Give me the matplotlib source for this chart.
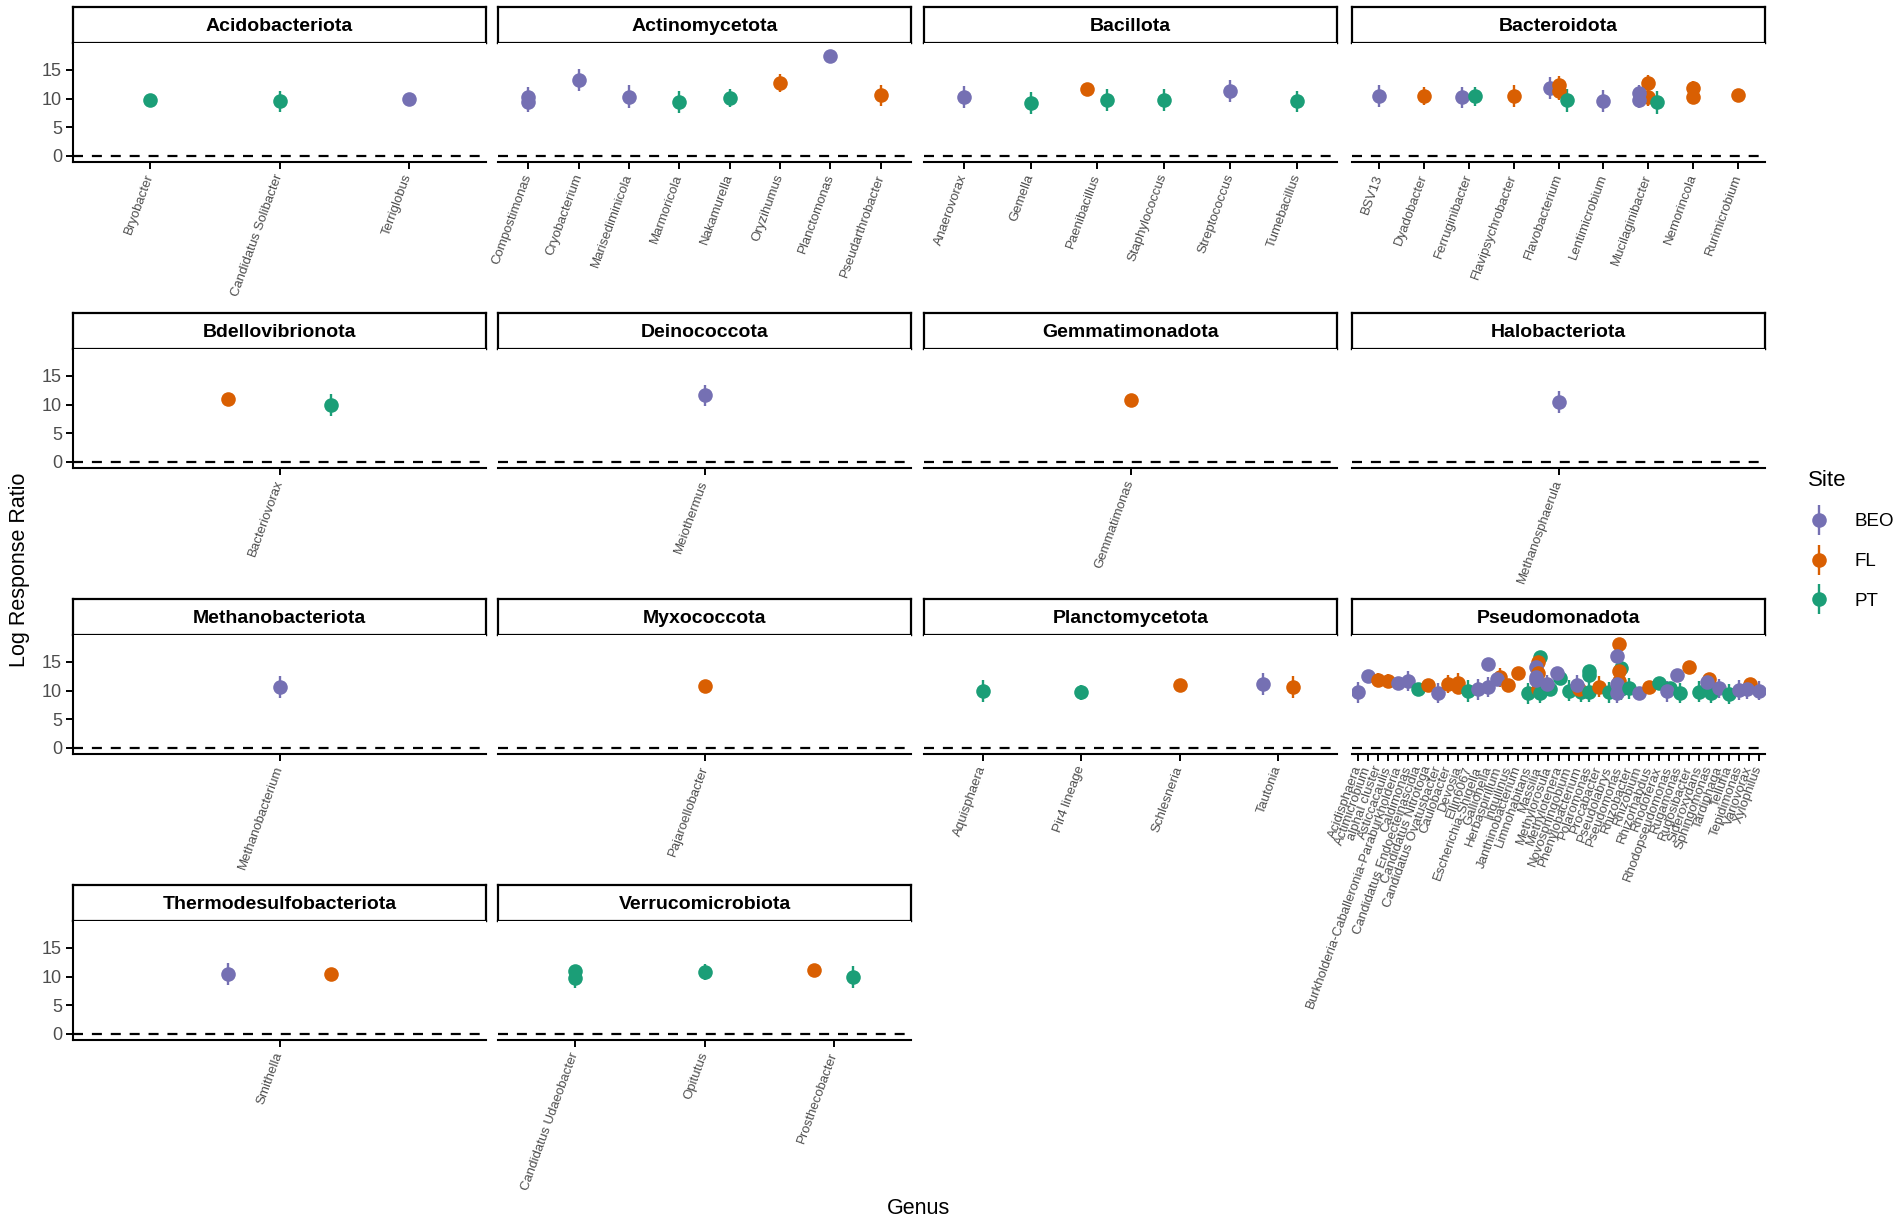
import matplotlib.pyplot as plt
from matplotlib.lines import Line2D
from matplotlib.legend_handler import HandlerTuple

plt.rcParams['font.family'] = ['Liberation Sans', 'DejaVu Sans']

# colours for each site (Dark2)
site_names = ['BEO', 'FL', 'PT']
site_colors = ['#7570B3', '#D95F02', '#1B9E77']

# genera and points (genus, site, log response ratio, half range) per phylum
acido_genera = ['Bryobacter', 'Candidatus Solibacter', 'Terriglobus']
acido_points = [('Bryobacter', 'PT', 9.8, 0.8), ('Candidatus Solibacter', 'PT', 9.5, 1.9),
                ('Terriglobus', 'BEO', 9.9, 0.5)]

actino_genera = ['Compostimonas', 'Cryobacterium', 'Marisediminicola', 'Marmoricola',
                 'Nakamurella', 'Oryzihumus', 'Planctomonas', 'Pseudarthrobacter']
actino_points = [('Compostimonas', 'BEO', 10.2, 1.8), ('Compostimonas', 'BEO', 9.4, 1.8),
                 ('Cryobacterium', 'BEO', 13.3, 1.9), ('Marisediminicola', 'BEO', 10.3, 2.0),
                 ('Marmoricola', 'PT', 9.4, 1.9), ('Nakamurella', 'PT', 10.1, 1.6),
                 ('Oryzihumus', 'FL', 12.7, 1.6), ('Planctomonas', 'BEO', 17.4, 0.4),
                 ('Pseudarthrobacter', 'FL', 10.6, 1.8)]

bacillota_genera = ['Anaerovorax', 'Gemella', 'Paenibacillus', 'Staphylococcus',
                    'Streptococcus', 'Tumebacillus']
bacillota_points = [('Anaerovorax', 'BEO', 10.3, 1.9), ('Gemella', 'PT', 9.3, 1.9),
                    ('Paenibacillus', 'FL', 11.6, 0.4), ('Paenibacillus', 'PT', 9.7, 1.9),
                    ('Staphylococcus', 'PT', 9.7, 1.9), ('Streptococcus', 'BEO', 11.3, 1.9),
                    ('Tumebacillus', 'PT', 9.5, 1.9)]

bactero_genera = ['BSV13', 'Dyadobacter', 'Ferruginibacter', 'Flavipsychrobacter',
                  'Flavobacterium', 'Lentimicrobium', 'Mucilaginibacter', 'Nemorincola',
                  'Rurimicrobium']
bactero_points = [('BSV13', 'BEO', 10.5, 1.9), ('Dyadobacter', 'FL', 10.5, 1.6),
                  ('Ferruginibacter', 'BEO', 10.2, 1.9), ('Ferruginibacter', 'PT', 10.4, 1.7),
                  ('Flavipsychrobacter', 'FL', 10.4, 1.9),
                  ('Flavobacterium', 'BEO', 11.8, 1.9), ('Flavobacterium', 'FL', 12.3, 1.6),
                  ('Flavobacterium', 'FL', 11.3, 1.6), ('Flavobacterium', 'PT', 9.7, 2.0),
                  ('Lentimicrobium', 'BEO', 9.6, 1.9),
                  ('Mucilaginibacter', 'FL', 12.7, 1.5), ('Mucilaginibacter', 'FL', 10.3, 1.5),
                  ('Mucilaginibacter', 'BEO', 10.9, 1.5), ('Mucilaginibacter', 'BEO', 9.8, 1.5),
                  ('Mucilaginibacter', 'PT', 9.4, 2.0),
                  ('Nemorincola', 'FL', 11.8, 1.2), ('Nemorincola', 'FL', 10.3, 1.2),
                  ('Rurimicrobium', 'FL', 10.6, 0.8)]

bdello_genera = ['Bacteriovorax']
bdello_points = [('Bacteriovorax', 'FL', 11.0, 1.0), ('Bacteriovorax', 'PT', 9.9, 1.9)]

deino_genera = ['Meiothermus']
deino_points = [('Meiothermus', 'BEO', 11.6, 1.9)]

gemma_genera = ['Gemmatimonas']
gemma_points = [('Gemmatimonas', 'FL', 10.8, 0.5)]

halo_genera = ['Methanosphaerula']
halo_points = [('Methanosphaerula', 'BEO', 10.4, 1.9)]

methano_genera = ['Methanobacterium']
methano_points = [('Methanobacterium', 'BEO', 10.6, 1.9)]

myxo_genera = ['Pajaroellobacter']
myxo_points = [('Pajaroellobacter', 'FL', 10.8, 0.5)]

plancto_genera = ['Aquisphaera', 'Pir4 lineage', 'Schlesneria', 'Tautonia']
plancto_points = [('Aquisphaera', 'PT', 9.9, 1.9), ('Pir4 lineage', 'PT', 9.7, 1.3),
                  ('Schlesneria', 'FL', 11.0, 0.5), ('Tautonia', 'BEO', 11.2, 1.9),
                  ('Tautonia', 'FL', 10.6, 1.9)]

pseudo_genera = ['Acidisphaera', 'Actimicrobium', 'alphaI cluster', 'Asticcacaulis',
                 'Burkholderia-Caballeronia-Paraburkholderia', 'Caldimonas',
                 'Candidatus Endoecteinascidia', 'Candidatus Nitrotoga',
                 'Candidatus Ovatusbacter', 'Caulobacter', 'Devosia', 'Ellin6067',
                 'Escherichia-Shigella', 'Gallionella', 'Herbaspirillum', 'Inquilinus',
                 'Janthinobacterium', 'Limnohabitans', 'Massilia', 'Methylorosula',
                 'Methylotenera', 'Novosphingobium', 'Phenylobacterium', 'Polaromonas',
                 'Procabacter', 'Pseudolabrys', 'Pseudomonas', 'Rhizobacter', 'Rhizobium',
                 'Rhizorhabdus', 'Rhodoferax', 'Rhodopseudomonas', 'Rugamonas',
                 'Rugosibacter', 'Sideroxydans', 'Sphingomonas', 'Tardiphaga', 'Telluria',
                 'Tepidimonas', 'Variovorax', 'Xylophilus']
pseudo_points = [('Acidisphaera', 'BEO', 9.7, 1.8), ('Actimicrobium', 'BEO', 12.6, 0.4),
                 ('alphaI cluster', 'FL', 11.9, 1.2), ('Asticcacaulis', 'FL', 11.7, 1.2),
                 ('Burkholderia-Caballeronia-Paraburkholderia', 'BEO', 11.3, 0.6),
                 ('Caldimonas', 'BEO', 11.7, 1.7),
                 ('Candidatus Endoecteinascidia', 'PT', 10.2, 0.6),
                 ('Candidatus Nitrotoga', 'FL', 10.9, 0.6),
                 ('Candidatus Ovatusbacter', 'BEO', 9.6, 1.8),
                 ('Caulobacter', 'FL', 11.2, 1.6), ('Devosia', 'FL', 11.4, 1.6),
                 ('Devosia', 'FL', 10.6, 1.0), ('Ellin6067', 'PT', 10.0, 1.9),
                 ('Escherichia-Shigella', 'BEO', 10.2, 1.9),
                 ('Gallionella', 'BEO', 14.6, 0.5), ('Gallionella', 'BEO', 10.6, 1.7),
                 ('Herbaspirillum', 'FL', 12.3, 1.6), ('Herbaspirillum', 'BEO', 12.0, 1.0),
                 ('Inquilinus', 'FL', 10.9, 1.0), ('Janthinobacterium', 'FL', 13.0, 0.5),
                 ('Limnohabitans', 'PT', 9.5, 1.9),
                 ('Massilia', 'PT', 15.8, 0.5), ('Massilia', 'FL', 15.0, 0.6),
                 ('Massilia', 'BEO', 14.2, 0.6), ('Massilia', 'FL', 13.0, 0.6),
                 ('Massilia', 'BEO', 12.4, 0.6), ('Massilia', 'FL', 10.3, 1.7),
                 ('Massilia', 'PT', 9.6, 1.8), ('Massilia', 'BEO', 11.8, 0.6),
                 ('Methylorosula', 'PT', 10.3, 1.0), ('Methylorosula', 'BEO', 11.2, 1.6),
                 ('Methylotenera', 'PT', 12.2, 0.8), ('Methylotenera', 'BEO', 13.0, 0.5),
                 ('Novosphingobium', 'PT', 10.0, 1.8),
                 ('Phenylobacterium', 'PT', 9.8, 1.8), ('Phenylobacterium', 'FL', 10.3, 1.5),
                 ('Phenylobacterium', 'BEO', 11.0, 1.8),
                 ('Polaromonas', 'PT', 13.5, 0.8), ('Polaromonas', 'PT', 12.8, 0.6),
                 ('Polaromonas', 'PT', 9.8, 1.8), ('Procabacter', 'FL', 10.7, 1.8),
                 ('Pseudolabrys', 'PT', 9.7, 1.8),
                 ('Pseudomonas', 'FL', 18.1, 0.5), ('Pseudomonas', 'PT', 14.0, 0.5),
                 ('Pseudomonas', 'FL', 13.5, 0.6), ('Pseudomonas', 'FL', 11.7, 0.6),
                 ('Pseudomonas', 'PT', 10.2, 1.8), ('Pseudomonas', 'BEO', 16.1, 0.5),
                 ('Pseudomonas', 'BEO', 11.2, 1.6), ('Pseudomonas', 'BEO', 9.6, 1.8),
                 ('Rhizobacter', 'PT', 10.4, 1.8), ('Rhizobium', 'BEO', 9.6, 0.8),
                 ('Rhizorhabdus', 'FL', 10.7, 0.6), ('Rhodoferax', 'PT', 11.4, 0.8),
                 ('Rhodopseudomonas', 'PT', 10.5, 1.0), ('Rhodopseudomonas', 'BEO', 9.9, 1.8),
                 ('Rugamonas', 'PT', 9.6, 1.8), ('Rugamonas', 'BEO', 12.7, 0.6),
                 ('Rugosibacter', 'FL', 14.2, 0.5), ('Sideroxydans', 'PT', 9.8, 1.8),
                 ('Sphingomonas', 'PT', 9.6, 1.8), ('Sphingomonas', 'FL', 12.0, 0.8),
                 ('Sphingomonas', 'BEO', 11.5, 1.3), ('Tardiphaga', 'BEO', 10.4, 1.6),
                 ('Telluria', 'PT', 9.4, 1.8), ('Tepidimonas', 'BEO', 10.1, 1.8),
                 ('Variovorax', 'FL', 11.2, 1.0), ('Variovorax', 'BEO', 10.2, 1.6),
                 ('Xylophilus', 'BEO', 10.0, 1.6)]

thermo_genera = ['Smithella']
thermo_points = [('Smithella', 'BEO', 10.5, 1.9), ('Smithella', 'FL', 10.4, 0.7)]

verruco_genera = ['Candidatus Udaeobacter', 'Opitutus', 'Prosthecobacter']
verruco_points = [('Candidatus Udaeobacter', 'PT', 11.0, 1.0),
                  ('Candidatus Udaeobacter', 'PT', 9.7, 1.7),
                  ('Opitutus', 'PT', 10.8, 1.4), ('Prosthecobacter', 'FL', 11.2, 0.5),
                  ('Prosthecobacter', 'PT', 9.9, 1.9)]

panels = [('Acidobacteriota', acido_genera, acido_points),
          ('Actinomycetota', actino_genera, actino_points),
          ('Bacillota', bacillota_genera, bacillota_points),
          ('Bacteroidota', bactero_genera, bactero_points),
          ('Bdellovibrionota', bdello_genera, bdello_points),
          ('Deinococcota', deino_genera, deino_points),
          ('Gemmatimonadota', gemma_genera, gemma_points),
          ('Halobacteriota', halo_genera, halo_points),
          ('Methanobacteriota', methano_genera, methano_points),
          ('Myxococcota', myxo_genera, myxo_points),
          ('Planctomycetota', plancto_genera, plancto_points),
          ('Pseudomonadota', pseudo_genera, pseudo_points),
          ('Thermodesulfobacteriota', thermo_genera, thermo_points),
          ('Verrucomicrobiota', verruco_genera, verruco_points)]

W, H = 1902, 1224
fig = plt.figure(figsize=(W / 100, H / 100), dpi=100)


def box(x, y, w, h):
    # pixel box (top-left origin) to figure fraction
    return [x / W, 1 - (y + h) / H, w / W, h / H]


col_left = [73, 498, 924, 1352]
row_top = [7, 313, 599, 885]
panel_w = 413
strip_h = 36
panel_h = 119
grey = '#4D4D4D'
dodge = 0.6

for idx, (phylum, genera, points) in enumerate(panels):
    row, col = divmod(idx, 4)
    x0 = col_left[col]
    y0 = row_top[row]

    # strip
    sax = fig.add_axes(box(x0, y0, panel_w, strip_h))
    sax.set_xticks([])
    sax.set_yticks([])
    for s in sax.spines.values():
        s.set_linewidth(1.6)
        s.set_color('black')
    sax.text(0.5, 0.47, phylum, ha='center', va='center', fontsize=14,
             fontweight='bold', transform=sax.transAxes)

    # panel
    ax = fig.add_axes(box(x0, y0 + strip_h, panel_w, panel_h))
    n = len(genera)
    ax.set_xlim(0.4, n + 0.6)
    ax.set_ylim(-1.05, 19.7)
    ax.axhline(0, color='black', lw=1.6, ls=(0, (4.5, 4)), zorder=1)

    # sites present for each genus, for dodging
    present = {}
    for g, s, v, e in points:
        present.setdefault(g, set()).add(s)

    for g, s, v, e in points:
        sites = [x for x in site_names if x in present[g]]
        k = sites.index(s)
        xpos = genera.index(g) + 1 - dodge / 2 + dodge * (k + 0.5) / len(sites)
        c = site_colors[site_names.index(s)]
        ax.vlines(xpos, v - e, v + e, color=c, lw=1.7, zorder=2)
        ax.plot(xpos, v, 'o', color=c, markersize=10.5, markeredgewidth=0, zorder=3)

    for side in ['top', 'right']:
        ax.spines[side].set_visible(False)
    ax.spines['bottom'].set_linewidth(1.5)
    ax.spines['left'].set_linewidth(1.5)

    ax.set_xticks(range(1, n + 1))
    ax.set_xticklabels(genera, rotation=70, ha='right', va='center',
                       rotation_mode='anchor', fontsize=9.5, color=grey)
    ax.tick_params(axis='x', length=5, width=1.4, pad=4)
    if col == 0:
        ax.set_yticks([0, 5, 10, 15])
        ax.tick_params(axis='y', length=5, width=1.4, labelsize=13,
                       labelcolor=grey, pad=3)
    else:
        ax.spines['left'].set_visible(False)
        ax.tick_params(axis='y', left=False, labelleft=False)

# axis titles
fig.text(20 / W, 1 - 570 / H, 'Log Response Ratio', rotation=90, fontsize=15.5,
         ha='center', va='center')
fig.text(918 / W, 1 - 1208 / H, 'Genus', fontsize=15.5, ha='center', va='center')

# legend with point-range keys
handles = []
for c in site_colors:
    bar = Line2D([], [], marker='|', markersize=21, markeredgewidth=1.7, color=c,
                 linestyle='None')
    dot = Line2D([], [], marker='o', markersize=10.5, markeredgewidth=0, color=c,
                 linestyle='None')
    handles.append((bar, dot))
leg = fig.legend(handles, site_names, title='Site', loc='upper left',
                 bbox_to_anchor=(1791 / W, 1 - 453 / H), frameon=False,
                 fontsize=13.5, title_fontsize=16, labelspacing=1.2,
                 handlelength=1.2, handletextpad=1.3,
                 handler_map={tuple: HandlerTuple(ndivide=1)})
leg._legend_box.align = 'left'

plt.savefig('out.png', dpi=100)
